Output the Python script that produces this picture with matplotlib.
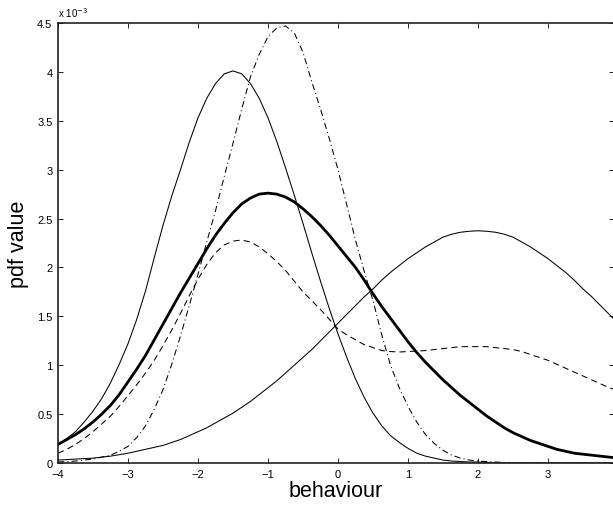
import matplotlib
matplotlib.use('Agg')
import matplotlib.pyplot as plt
import numpy as np

plt.rcParams['font.family'] = ['Liberation Sans', 'DejaVu Sans']

# x positions of the read-off points (behaviour), step 0.125
behaviour = np.linspace(-4.0, 4.0, 65)

# pdf values, in units of 1e-3
pdf_left = [0.19, 0.25, 0.32, 0.42, 0.53, 0.66, 0.82, 1.01,
            1.22, 1.47, 1.76, 2.10, 2.43, 2.73, 3.00, 3.28,
            3.53, 3.73, 3.88, 3.98, 4.01, 3.98, 3.88, 3.73,
            3.53, 3.29, 3.02, 2.74, 2.45, 2.15, 1.86, 1.58,
            1.32, 1.08, 0.86, 0.67, 0.51, 0.38, 0.28, 0.21,
            0.15, 0.10, 0.07, 0.05, 0.03, 0.02, 0.015, 0.01,
            0.01, 0.005, 0, 0, 0, 0, 0, 0,
            0, 0, 0, 0, 0, 0, 0, 0,
            0]
pdf_dashdot = [0.01, 0.015, 0.02, 0.03, 0.04, 0.06, 0.08, 0.12,
               0.17, 0.26, 0.38, 0.55, 0.75, 1.01, 1.30, 1.61,
               1.93, 2.26, 2.58, 2.93, 3.27, 3.62, 3.95, 4.18,
               4.36, 4.45, 4.47, 4.40, 4.20, 3.90, 3.62, 3.32,
               3.00, 2.64, 2.28, 1.96, 1.66, 1.31, 1.00, 0.77,
               0.58, 0.42, 0.29, 0.20, 0.13, 0.08, 0.05, 0.03,
               0.02, 0.015, 0.01, 0.005, 0, 0, 0, 0,
               0, 0, 0, 0, 0, 0, 0, 0,
               0]
pdf_thick = [0.19, 0.24, 0.29, 0.35, 0.42, 0.50, 0.59, 0.70,
             0.83, 0.96, 1.10, 1.26, 1.42, 1.58, 1.74, 1.89,
             2.04, 2.19, 2.33, 2.45, 2.56, 2.65, 2.71, 2.75,
             2.76, 2.75, 2.72, 2.67, 2.60, 2.52, 2.43, 2.33,
             2.22, 2.11, 2.00, 1.87, 1.73, 1.60, 1.48, 1.36,
             1.24, 1.13, 1.03, 0.94, 0.85, 0.77, 0.69, 0.62,
             0.55, 0.48, 0.42, 0.36, 0.31, 0.27, 0.23, 0.20,
             0.17, 0.14, 0.12, 0.10, 0.09, 0.08, 0.07, 0.06,
             0.05]
pdf_right = [0.03, 0.035, 0.04, 0.045, 0.05, 0.06, 0.07, 0.085,
             0.10, 0.12, 0.14, 0.16, 0.18, 0.21, 0.24, 0.28,
             0.32, 0.36, 0.41, 0.46, 0.51, 0.57, 0.63, 0.70,
             0.77, 0.84, 0.92, 1.00, 1.08, 1.16, 1.25, 1.34,
             1.43, 1.52, 1.61, 1.70, 1.78, 1.87, 1.95, 2.02,
             2.09, 2.15, 2.21, 2.26, 2.31, 2.34, 2.36, 2.37,
             2.375, 2.37, 2.36, 2.34, 2.31, 2.26, 2.21, 2.15,
             2.09, 2.02, 1.95, 1.87, 1.78, 1.70, 1.61, 1.52,
             1.43]
pdf_dashed = [0.10, 0.14, 0.19, 0.25, 0.32, 0.40, 0.48, 0.58,
              0.69, 0.80, 0.92, 1.05, 1.20, 1.36, 1.53, 1.71,
              1.88, 2.03, 2.15, 2.23, 2.27, 2.28, 2.26, 2.21,
              2.14, 2.06, 1.97, 1.86, 1.75, 1.66, 1.57, 1.47,
              1.37, 1.31, 1.26, 1.21, 1.18, 1.15, 1.14, 1.135,
              1.14, 1.145, 1.15, 1.16, 1.17, 1.18, 1.19, 1.19,
              1.19, 1.19, 1.18, 1.17, 1.16, 1.14, 1.11, 1.08,
              1.05, 1.01, 0.97, 0.93, 0.89, 0.85, 0.81, 0.77,
              0.74]

xticks = [-4, -3, -2, -1, 0, 1, 2, 3]
yticks = [0, 0.5, 1, 1.5, 2, 2.5, 3, 3.5, 4, 4.5]
ytick_labels = ['0', '0.5', '1', '1.5', '2', '2.5', '3', '3.5', '4', '4.5']

fig = plt.figure(figsize=(6.13, 5.10), dpi=100)
ax = fig.add_axes([58/613, 46/510, 556/613, 440/510])

ax.plot(behaviour, pdf_right, color='k', lw=0.75)
ax.plot(behaviour, pdf_left, color='k', lw=0.75)
ax.plot(behaviour, pdf_dashed, color='k', lw=0.75, dashes=(6, 4))
ax.plot(behaviour, pdf_dashdot, color='k', lw=0.75, dashes=(6, 3, 1, 3))
ax.plot(behaviour, pdf_thick, color='k', lw=2.0)

ax.set_xlim(-4, -4 + 556/70)
ax.set_ylim(0, 4.5)
ax.set_xticks(xticks)
ax.set_xticklabels([str(t).replace('-', '\u2212') for t in xticks])
ax.set_yticks(yticks)
ax.set_yticklabels(ytick_labels)
ax.tick_params(direction='in', length=3.5, width=0.6, labelsize=8,
               top=True, right=True, pad=4)
for s in ax.spines.values():
    s.set_linewidth(1.2)
    s.set_color('#222222')

ax.set_xlabel('behaviour', fontsize=15.5, labelpad=1)
ax.set_ylabel('pdf value', fontsize=15.5, labelpad=6)
fig.text(58/613, 1 - 18/510, r'x 10$^{-3}$', fontsize=7, ha='left', va='baseline')

plt.savefig('out.png', dpi=100)
plt.close()
